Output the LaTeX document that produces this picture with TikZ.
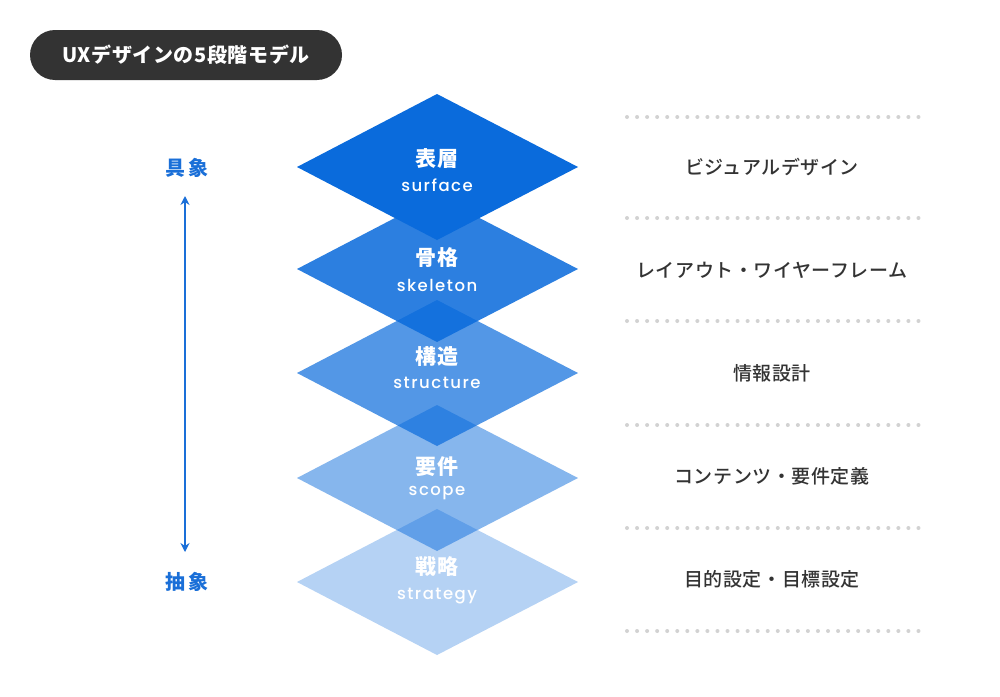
\documentclass[tikz,border=0pt]{standalone}
\usepackage{fontspec}
\setmainfont{Noto Sans CJK JP}
\newfontfamily\jp{Noto Sans CJK JP}
\newfontfamily\jpls[LetterSpace=3]{Noto Sans CJK JP}
\newfontfamily\jpmed[LetterSpace=3, UprightFont=* Medium]{Noto Sans CJK JP}
\newfontfamily\jpwide[LetterSpace=12]{Noto Sans CJK JP}
\newfontfamily\en[LetterSpace=9, UprightFont=* Medium]{Poppins}
\usetikzlibrary{arrows.meta}
\definecolor{base}{HTML}{0A6BDC}
\definecolor{arrowblue}{HTML}{1A6FD8}
\definecolor{pill}{HTML}{333333}
\definecolor{labeltext}{HTML}{333333}
\definecolor{dotgrey}{HTML}{D2D2D2}
\tikzset{
  jptitle/.style={text=white, font=\jpls\bfseries\fontsize{21}{23}\selectfont, inner sep=0pt},
  entitle/.style={text=white, font=\en\fontsize{16.5}{18}\selectfont, inner sep=0pt},
  rightlabel/.style={text=labeltext, font=\jpmed\fontsize{19}{21}\selectfont, inner sep=0pt},
  sidelabel/.style={text=arrowblue, font=\jpwide\bfseries\fontsize{20}{22}\selectfont, inner sep=0pt},
  dotline/.style={dotgrey, line width=4pt, line cap=round, dash pattern=on 0pt off 10.05pt},
  pillbox/.style={fill=pill, rounded corners=25pt, minimum width=312pt, minimum height=50pt, text=white, font=\jpls\bfseries\fontsize{20}{22}\selectfont, inner sep=0pt},
}
\newcommand\uxlayer[2]{%
  \fill[base, fill opacity=#2] (437,{#1-73}) -- (578,#1) -- (437,{#1+73}) -- (297,#1) -- cycle;}
\begin{document}
\begin{tikzpicture}[x=1pt,y=-1pt]
\useasboundingbox[fill=white] (0,0) rectangle (1000,696);
% title
\node[pillbox] (title) at (186,55) {UXデザインの5段階モデル};
% diamonds, bottom first
\uxlayer{582}{0.30}
\uxlayer{478}{0.49}
\uxlayer{373}{0.70}
\uxlayer{269}{0.86}
\uxlayer{167}{1}
% diamond texts
\node[jptitle] (j1) at (437,159) {表層};
\node[entitle] (e1) at (437,185) {surface};
\node[jptitle] (j2) at (437,258) {骨格};
\node[entitle] (e2) at (437,285) {skeleton};
\node[jptitle] (j3) at (437,357) {構造};
\node[entitle] (e3) at (437,383) {structure};
\node[jptitle] (j4) at (437,467) {要件};
\node[entitle] (e4) at (437,493) {scope};
\node[jptitle] (j5) at (437,567) {戦略};
\node[entitle] (e5) at (437,596) {strategy};
% right labels
\node[rightlabel] (r1) at (772,167) {ビジュアルデザイン};
\node[rightlabel] (r2) at (772,270) {レイアウト・ワイヤーフレーム};
\node[rightlabel] (r3) at (772,373) {情報設計};
\node[rightlabel] (r4) at (772,476) {コンテンツ・要件定義};
\node[rightlabel] (r5) at (772,579) {目的設定・目標設定};
% dotted lines
\foreach \i/\y in {1/117,2/218,3/321,4/425,5/528,6/631}{
  \coordinate (d\i a) at (627,\y);
  \coordinate (d\i b) at (919,\y);
  \draw[dotline] (d\i a) -- (d\i b);
}
% side labels and arrow
\node[sidelabel] (concrete) at (187,168) {具象};
\node[sidelabel] (abstract) at (187,582) {抽象};
\coordinate (atop) at (185,196);
\coordinate (abot) at (185,552);
\draw[arrowblue, line width=1.5pt, {Stealth[length=9pt,width=9pt]}-{Stealth[length=9pt,width=9pt]}] (atop) -- (abot);
\end{tikzpicture}
\end{document}
